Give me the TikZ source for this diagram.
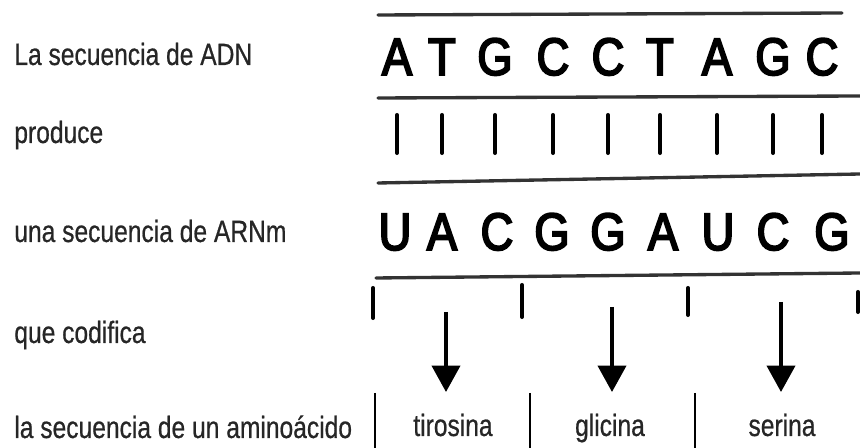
\documentclass[tikz,border=0pt]{standalone}
\usepackage{fontspec}
\setmainfont{Liberation Sans}
\newfontfamily\narrowfont{Liberation Sans}[FakeStretch=0.8, FakeBold=0.6]
\newfontfamily\basefont{Liberation Sans}[FakeStretch=0.86, FakeBold=3.5]
\usetikzlibrary{arrows.meta,positioning}
\tikzset{
  strandline/.style={line width=1.9pt, draw=black!80, line cap=round},
  pairtick/.style={line width=2.3pt, line cap=round},
  codonarrow/.style={-{Triangle[length=15pt,width=16pt]}, line width=2pt},
  rowlabel/.style={font=\narrowfont\fontsize{17.5}{20}\selectfont, text=black!85, anchor=base west, inner sep=0pt},
  aminolabel/.style={font=\narrowfont\fontsize{17.5}{20}\selectfont, text=black!85, anchor=base, inner sep=0pt},
  basebox/.style={font=\basefont\fontsize{30}{32}\selectfont, anchor=base, inner sep=0pt}
}

\begin{document}
\begin{tikzpicture}[x=0.02cm, y=-0.02cm]
\useasboundingbox (0,0) rectangle (860,448);
% row labels on the left
\node[rowlabel] (lab-adn) at (14,65) {La secuencia de ADN};
\node[rowlabel] (lab-prod) at (14,143) {produce};
\node[rowlabel] (lab-arn) at (14,242) {una secuencia de ARNm};
\node[rowlabel] (lab-cod) at (14,343) {que codifica};
\node[rowlabel] (lab-amino) at (14,438) {la secuencia de un aminoácido};

% strands
\draw[strandline] (378,15) -- (842,13);
\draw[strandline] (378,98) -- (860,96);
\draw[strandline] (378,183) -- (860,174);
\draw[strandline] (376,278) -- (860,273);

% DNA bases and their pairing ticks
\foreach \b/\x [count=\i] in {A/397,T/442,G/495,C/553,C/608,T/660,A/717,G/773,C/822}{
  \node[basebox] (adn-\i) at (\x,75) {\b};
  \draw[pairtick] (\x,115) -- (\x,153);
}
% mRNA bases
\foreach \b/\x [count=\i] in {U/395,A/442,C/497,G/552,G/608,A/663,U/718,C/773,G/832}
  \node[basebox] (arn-\i) at (\x,250) {\b};

% codon boundaries
\foreach \x/\ya/\yb in {373/288/318,522/285/317,688/288/315,858/292/312}
  \draw[pairtick] (\x,\ya) -- (\x,\yb);

% amino acids
\node[aminolabel] (tir) at (453,436) {tirosina};
\node[aminolabel] (gli) at (610,436) {glicina};
\node[aminolabel] (ser) at (782,436) {serina};
\foreach \x in {375,530,695}
  \draw[line width=1.6pt] (\x,393) -- (\x,448);

% one arrow per codon
\coordinate (cod-1) at (446,312);
\coordinate (cod-2) at (612,307);
\coordinate (cod-3) at (781,302);
\draw[codonarrow] (cod-1) -- (446,392);
\draw[codonarrow] (cod-2) -- (612,392);
\draw[codonarrow] (cod-3) -- (781,392);
\end{tikzpicture}
\end{document}
